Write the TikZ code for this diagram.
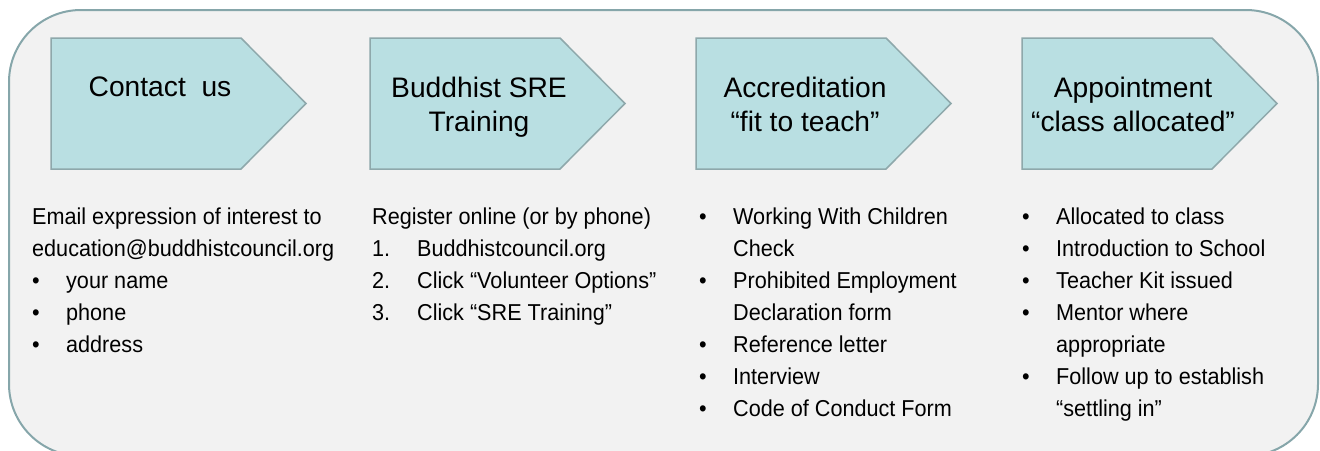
\documentclass[tikz,border=0pt]{standalone}
\usepackage{fontspec}
\setmainfont{Liberation Sans}
\newfontfamily\listfont[FakeStretch=0.94]{Liberation Sans}

\definecolor{boxfill}{HTML}{B9DFE2}
\definecolor{boxline}{HTML}{8EA8AB}
\definecolor{panelfill}{HTML}{F2F2F2}
\definecolor{panelline}{HTML}{86A6AA}

\newcommand{\bul}{\makebox[34pt][l]{\textbullet}}
\newcommand{\num}[1]{\makebox[45pt][l]{#1}}
\newcommand{\ind}{\hspace*{34pt}}

\tikzset{
  panel/.style={fill=panelfill,draw=panelline,line width=2pt,rounded corners=72pt},
  stepbox/.style={fill=boxfill,draw=boxline,line width=1.5pt}
}

\begin{document}
\begin{tikzpicture}[x=1pt,y=-1pt]

          \useasboundingbox (0,0) rectangle (1320,450);
          \clip (0,0) rectangle (1320,450);

          \draw[panel] (9,10) rectangle (1318,456);

          \draw[stepbox] (51,38)  -- ++(190,0) -- ++(65,65.5) -- ++(-65,65.5) -- ++(-190,0) -- cycle;
          \draw[stepbox] (370,38) -- ++(190,0) -- ++(65,65.5) -- ++(-65,65.5) -- ++(-190,0) -- cycle;
          \draw[stepbox] (696,38) -- ++(190,0) -- ++(65,65.5) -- ++(-65,65.5) -- ++(-190,0) -- cycle;
          \draw[stepbox] (1022,38) -- ++(190,0) -- ++(65,65.5) -- ++(-65,65.5) -- ++(-190,0) -- cycle;

          \begin{scope}[every node/.style={font=\fontsize{28.2}{34}\selectfont,align=center,anchor=north,inner sep=0pt}]
            \node (1) at (160,76.5)  {Contact\ \ us};
            \node (2) at (479,76.5)  {Buddhist SRE\\Training};
            \node (3) at (805,76.5)  {Accreditation\\“fit to teach”};
            \node (4) at (1133,76.5) {Appointment\\“class allocated”};
          \end{scope}

          \begin{scope}[every node/.style={font=\listfont\fontsize{23}{32}\selectfont,align=left,anchor=north west,inner sep=0pt}]
            \node (d1) at (32,208)   {Email expression of interest to\\
                                      education@buddhistcouncil.org\\
                                      \bul your name\\
                                      \bul phone\\
                                      \bul address};
            \node (d2) at (372,208)  {Register online (or by phone)\\
                                      \num{1.}Buddhistcouncil.org\\
                                      \num{2.}Click “Volunteer Options”\\
                                      \num{3.}Click “SRE Training”};
            \node (d3) at (699,208)  {\bul Working With Children\\
                                      \ind Check\\
                                      \bul Prohibited Employment\\
                                      \ind Declaration form\\
                                      \bul Reference letter\\
                                      \bul Interview\\
                                      \bul Code of Conduct Form};
            \node (d4) at (1022,208) {\bul Allocated to class\\
                                      \bul Introduction to School\\
                                      \bul Teacher Kit issued\\
                                      \bul Mentor where\\
                                      \ind appropriate\\
                                      \bul Follow up to establish\\
                                      \ind “settling in”};
          \end{scope}

        \end{tikzpicture}
\end{document}
